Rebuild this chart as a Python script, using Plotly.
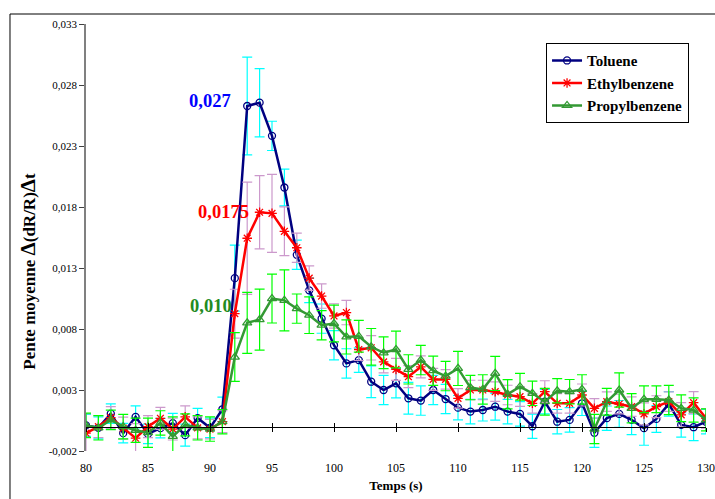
import plotly.graph_objects as go

time_s = list(range(80, 131))

toluene = [0.0001, -0.0001, 0.00106, -0.00054, 0.0008, -0.0006, -0.00013, 0.00028, -0.0007, 0.0007,
           -0.0001, 0.00142, 0.01217, 0.02628, 0.02655, 0.02383, 0.0196, 0.01408, 0.01117, 0.00885,
           0.00667, 0.00518, 0.00545, 0.00368, 0.0030, 0.00355, 0.00232, 0.00213, 0.0030, 0.00226,
           0.00155, 0.00123, 0.00136, 0.00163, 0.00123, 0.00104, 0.00003, 0.00204, 0.0004, 0.00055,
           0.00191, -0.0005, 0.00069, 0.00104, 0.00055, -0.00013, 0.00063, 0.00186, 0.00014, -0.00005,
           0.0004]
toluene_err = [0.0009, 0.0009, 0.0008, 0.0008, 0.0009, 0.0008, 0.0008, 0.0008, 0.0009, 0.0008,
               0.0008, 0.0010, 0.0027, 0.0040, 0.0028, 0.0012, 0.0015, 0.0012, 0.0010, 0.0012,
               0.0012, 0.0012, 0.0010, 0.0013, 0.0012, 0.0012, 0.0013, 0.0012, 0.0012, 0.0012,
               0.0010, 0.0010, 0.0009, 0.0011, 0.0010, 0.0010, 0.0010, 0.0010, 0.0010, 0.0010,
               0.0010, 0.0012, 0.0010, 0.0011, 0.0012, 0.0014, 0.0011, 0.0010, 0.0010, 0.0011,
               0.0010]

ethylbenzene = [-0.00054, 0.0, 0.00074, -0.00013, -0.00095, 0.0, 0.00068, -0.0002, 0.0008, -0.0001,
                -0.0002, 0.0004, 0.00926, 0.01544, 0.01757, 0.01748, 0.01601, 0.01466, 0.01217, 0.0107,
                0.00907, 0.00935, 0.00632, 0.00646, 0.00531, 0.00469, 0.00409, 0.0049, 0.00387, 0.00387,
                0.00232, 0.0030, 0.0030, 0.00286, 0.00259, 0.00245, 0.00191, 0.00286, 0.00191, 0.00191,
                0.00259, 0.0015, 0.00204, 0.00185, 0.00163, 0.00104, 0.00163, 0.00204, 0.00096, 0.00196,
                0.00068]
ethylbenzene_err = [0.0016, 0.0009, 0.0009, 0.0009, 0.0012, 0.0009, 0.0009, 0.0009, 0.0009, 0.0009,
                    0.0008, 0.0009, 0.0020, 0.0046, 0.0030, 0.0032, 0.0020, 0.0012, 0.0010, 0.0010,
                    0.0010, 0.0010, 0.0009, 0.0010, 0.0009, 0.0009, 0.0009, 0.0009, 0.0009, 0.0008,
                    0.0008, 0.0008, 0.0008, 0.0008, 0.0008, 0.0008, 0.0008, 0.0009, 0.0008, 0.0008,
                    0.0009, 0.0008, 0.0008, 0.0008, 0.0008, 0.0009, 0.0009, 0.0008, 0.0010, 0.0009,
                    0.0008]

propylbenzene = [0.0001, -0.0001, 0.00055, 0.0, -0.0003, -0.0005, 0.0003, -0.0008, 0.00014, -0.0001,
                 -0.0002, 0.0004, 0.0057, 0.0085, 0.00877, 0.01049, 0.01035, 0.00967, 0.00913, 0.00831,
                 0.00845, 0.00735, 0.0074, 0.00654, 0.00605, 0.00632, 0.00469, 0.00545, 0.00458, 0.00414,
                 0.00477, 0.0032, 0.00305, 0.00436, 0.00265, 0.00327, 0.00273, 0.00204, 0.00294, 0.00286,
                 0.00305, -0.0002, 0.00204, 0.0030, 0.0015, 0.00224, 0.00224, 0.00218, 0.0015, 0.00136,
                 0.00055]
propylbenzene_err = [0.0010, 0.0010, 0.0008, 0.0010, 0.0010, 0.0012, 0.0010, 0.0016, 0.0009, 0.0010,
                     0.0010, 0.0010, 0.0020, 0.0025, 0.0025, 0.0020, 0.0025, 0.0012, 0.0015, 0.0012,
                     0.0015, 0.0014, 0.0013, 0.0015, 0.0013, 0.0015, 0.0012, 0.0012, 0.0012, 0.0012,
                     0.0014, 0.0010, 0.0012, 0.0014, 0.0012, 0.0011, 0.0010, 0.0011, 0.0010, 0.0010,
                     0.0012, 0.0012, 0.0011, 0.0014, 0.0012, 0.0011, 0.0011, 0.0012, 0.0011, 0.0010,
                     0.0009]

y_tickvals = [-0.002, 0.003, 0.008, 0.013, 0.018, 0.023, 0.028, 0.033]
y_ticktext = ["-0,002", "0,003", "0,008", "0,013", "0,018", "0,023", "0,028", "0,033"]
x_tickvals = [80, 85, 90, 95, 100, 105, 110, 115, 120, 125, 130]

series_names = ["Toluene", "Ethylbenzene", "Propylbenzene"]
peak_labels = ["0,027", "0,0175", "0,010"]
y_title = "Pente moyenne <span style='font-size:21px'>Δ</span>(dR/R)<span style='font-size:21px'>Δ</span>t"

FONT = "Liberation Serif"

fig = go.Figure()

specs = [
    (series_names[0], toluene, toluene_err, "#000080", "#00FFFF", "circle-open", 7),
    (series_names[1], ethylbenzene, ethylbenzene_err, "#FF0000", "#CC99CC", "asterisk-open", 8),
    (series_names[2], propylbenzene, propylbenzene_err, "#339933", "#00FF00", "triangle-up-open", 8),
]

for name, vals, errs, col, ecol, sym, msz in specs:
    fig.add_trace(go.Scatter(
        x=time_s, y=vals, name=name, mode="lines+markers",
        line=dict(color=col, width=2.5),
        marker=dict(symbol=sym, size=msz, color=col, line=dict(color=col, width=1.3)),
        error_y=dict(type="data", array=errs, visible=True, color=ecol, thickness=1.2, width=5),
    ))

# dummy traces to create the zero-crossing axis with crossing tick marks
fig.add_trace(go.Scatter(x=[], y=[], xaxis="x2", showlegend=False, hoverinfo="skip"))
fig.add_trace(go.Scatter(x=[], y=[], xaxis="x3", showlegend=False, hoverinfo="skip"))

y_lo, y_hi = -0.002, 0.033
zero_pos = (0 - y_lo) / (y_hi - y_lo)

fig.update_layout(
    width=715, height=499,
    margin=dict(l=86, r=9, t=24, b=48, autoexpand=False),
    paper_bgcolor="white", plot_bgcolor="white",
    font=dict(family=FONT, size=11, color="black"),
    showlegend=True,
    legend=dict(
        x=0.742, y=0.955, xanchor="left", yanchor="top",
        bordercolor="black", borderwidth=1, bgcolor="white",
        font=dict(family=FONT, size=15, color="black", weight="bold"),
        itemwidth=30, tracegroupgap=0,
    ),
    xaxis=dict(
        range=[80, 130], tickvals=x_tickvals, showline=False, showgrid=False, zeroline=False,
        ticks="outside", ticklen=6, tickcolor="rgba(0,0,0,0)", automargin=False,
        tickfont=dict(family=FONT, size=12),
        title=dict(text="Temps (s)", font=dict(family=FONT, size=13, weight="bold"), standoff=6),
    ),
    xaxis2=dict(
        overlaying="x", matches="x", anchor="free", position=zero_pos, automargin=False,
        tickvals=x_tickvals, showticklabels=False, showline=True, linecolor="black", linewidth=1.2,
        ticks="outside", ticklen=4, tickcolor="black", showgrid=False, zeroline=False,
    ),
    xaxis3=dict(
        overlaying="x", matches="x", anchor="free", position=zero_pos, automargin=False,
        tickvals=x_tickvals, showticklabels=False, showline=False,
        ticks="inside", ticklen=4, tickcolor="black", showgrid=False, zeroline=False,
    ),
    yaxis=dict(
        range=[y_lo, y_hi], tickvals=y_tickvals, ticktext=y_ticktext, automargin=False,
        showline=True, linecolor="#808080", linewidth=1.5, showgrid=False, zeroline=False,
        ticks="outside", ticklen=5, tickcolor="#404040",
        tickfont=dict(family=FONT, size=11),
    ),
    shapes=[dict(type="rect", xref="paper", yref="paper", x0=-0.1226, x1=1.03, y0=-0.2, y1=1.0234,
                 line=dict(color="black", width=1), fillcolor="rgba(0,0,0,0)", layer="below")],
)

# y-axis title placed as rotated text (Excel puts it slightly below the plot centre)
fig.add_annotation(xref="paper", yref="paper", x=-0.0935, y=0.42, text=f"<b>{y_title}</b>",
                   textangle=-90, showarrow=False, xanchor="center", yanchor="middle",
                   font=dict(family=FONT, size=17, color="black"))

annot_pos = [(90.0, 0.0267, "#0000FF"), (91.05, 0.0176, "#FF0000"), (90.08, 0.00985, "#228B22")]
for txt, (ax, ay, c) in zip(peak_labels, annot_pos):
    fig.add_annotation(x=ax, y=ay, text=f"<b>{txt}</b>", showarrow=False,
                       font=dict(family=FONT, size=18.5, color=c))

fig.write_html("out.html", config={"displayModeBar": False},
               post_script="document.body.style.margin='0';document.body.style.overflow='hidden';")
